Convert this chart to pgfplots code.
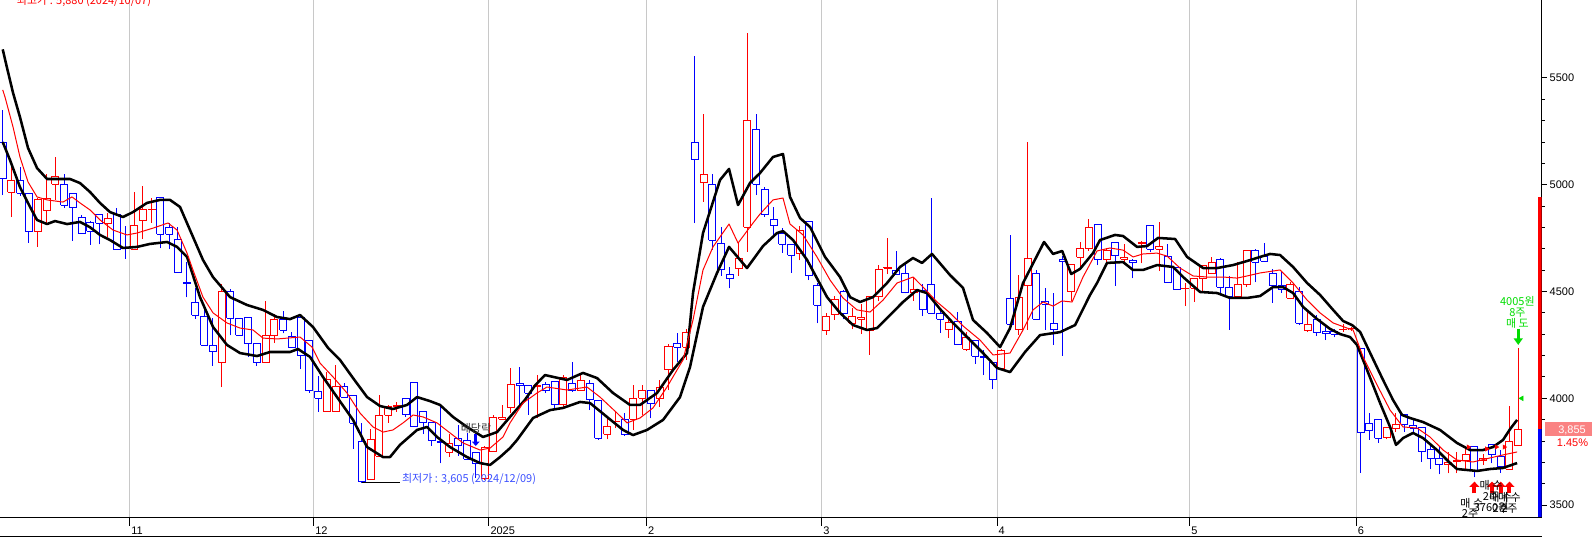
\documentclass[border=0pt]{standalone}
\usepackage{pgfplots}
\pgfplotsset{compat=1.18}
\usepackage{pgfplotstable}
\usetikzlibrary{arrows.meta}
\usepackage{fontspec}
\setmainfont{Liberation Sans}
\newfontfamily\kr{Noto Sans CJK KR}
\newcommand\fs{\fontsize{8.25pt}{9pt}\selectfont}

\definecolor{cred}{RGB}{255,0,0}
\definecolor{cblue}{RGB}{0,0,255}
\definecolor{gridgray}{RGB}{200,200,200}
\definecolor{sellgreen}{RGB}{0,220,0}
\definecolor{pricebox}{RGB}{250,130,130}
\definecolor{lowblue}{RGB}{60,80,255}

% daily candles: index, open, high, low, close
\pgfplotstableread{
k o h l c
0 5199 5350 4952 5030
1 4965 5100 4848 5022
2 5022 5085 4947 4960
3 4960 4960 4729 4780
4 4780 4937 4710 4933
5 4878 5050 4822 4937
6 5002 5128 4929 5040
7 5002 5050 4892 4904
8 4960 4960 4738 4894
9 4848 4858 4773 4773
10 4824 4830 4718 4783
11 4862 4862 4721 4820
12 4820 4866 4754 4840
13 4863 4890 4698 4698
14 4706 4807 4654 4702
15 4698 4965 4698 4807
16 4832 4994 4745 4885
17 4882 4937 4822 4886
18 4941 4941 4702 4768
19 4801 4822 4698 4768
20 4745 4801 4590 4590
21 4541 4637 4473 4539
22 4451 4515 4373 4389
23 4382 4429 4248 4248
24 4248 4375 4153 4220
25 4169 4535 4052 4501
26 4501 4510 4295 4375
27 4375 4375 4295 4295
28 4379 4379 4195 4258
29 4258 4258 4153 4169
30 4169 4456 4169 4293
31 4293 4395 4258 4370
32 4370 4410 4304 4319
33 4289 4311 4239 4239
34 4379 4393 4137 4200
35 4273 4273 4026 4036
36 4031 4105 3937 4000
37 3937 4122 3937 4086
38 3937 4156 3937 4054
39 4054 4073 4005 4005
40 4011 4011 3764 3883
41 3800 3883 3605 3612
42 3621 3855 3621 3808
43 3730 4016 3730 3921
44 3921 3969 3886 3961
45 3962 3984 3937 3965
46 4000 4002 3914 3925
47 4075 4075 3867 3867
48 3937 3937 3833 3886
49 3886 3886 3777 3802
50 3800 3973 3696 3794
51 3747 3833 3727 3789
52 3813 3875 3731 3778
53 3802 3839 3715 3715
54 3747 3747 3626 3696
55 3627 3775 3618 3771
56 3750 3922 3750 3911
57 3902 3969 3899 3911
58 3956 4141 3930 4067
59 4070 4148 3953 4062
60 4062 4062 3922 4024
61 4054 4109 3906 4062
62 4067 4078 4024 4039
63 4078 4078 3953 3969
64 3969 4109 3953 4098
65 4070 4171 4031 4036
66 4039 4117 4036 4083
67 4070 4086 3945 3995
68 3992 3992 3805 3813
69 3832 3906 3808 3867
70 3891 3937 3860 3893
71 3902 3930 3824 3832
72 3902 4062 3852 4000
73 4000 4062 3922 4039
74 4039 4039 3906 3977
75 4000 4086 3961 4052
76 4133 4254 4039 4245
77 4258 4304 4171 4239
78 4239 4323 4180 4309
79 5199 5603 4820 5119
80 5011 5330 4921 5050
81 5002 5050 4695 4741
82 4726 4804 4573 4601
83 4581 4616 4515 4562
84 4609 4726 4573 4656
85 4801 5712 4687 5303
86 5261 5330 4952 5002
87 4979 4991 4850 4862
88 4838 4896 4749 4810
89 4773 4796 4682 4721
90 4721 4721 4588 4670
91 4679 4805 4646 4785
92 4829 4829 4553 4576
93 4529 4539 4351 4436
94 4317 4398 4297 4384
95 4393 4479 4367 4464
96 4501 4507 4370 4398
97 4351 4422 4323 4384
98 4370 4440 4301 4379
99 4317 4478 4203 4478
100 4476 4624 4456 4604
101 4610 4752 4582 4613
102 4598 4690 4581 4581
103 4585 4635 4492 4495
104 4496 4562 4456 4510
105 4507 4534 4385 4417
106 4531 4937 4398 4398
107 4398 4423 4307 4370
108 4320 4379 4284 4354
109 4359 4403 4254 4254
110 4230 4312 4223 4284
111 4270 4270 4161 4198
112 4198 4226 4109 4192
113 4167 4167 4042 4089
114 4141 4230 4141 4222
115 4468 4765 4320 4347
116 4320 4577 4297 4473
117 4526 5199 4320 4656
118 4585 4601 4370 4370
119 4454 4515 4320 4440
120 4351 4492 4250 4323
121 4651 4668 4200 4643
122 4499 4628 4457 4628
123 4660 4733 4616 4702
124 4702 4838 4691 4801
125 4815 4815 4624 4651
126 4651 4702 4632 4694
127 4730 4730 4527 4668
128 4651 4723 4635 4658
129 4646 4651 4562 4637
130 4727 4735 4632 4730
131 4808 4808 4687 4699
132 4699 4824 4596 4712
133 4663 4721 4543 4543
134 4614 4614 4510 4510
135 4514 4541 4432 4516
136 4515 4562 4452 4562
137 4562 4621 4499 4621
138 4585 4663 4585 4635
139 4648 4656 4484 4520
140 4520 4574 4320 4476
141 4476 4640 4476 4534
142 4534 4690 4523 4690
143 4694 4699 4543 4637
144 4666 4726 4643 4643
145 4585 4604 4448 4527
146 4529 4596 4495 4510
147 4468 4546 4465 4535
148 4499 4523 4343 4351
149 4317 4406 4312 4347
150 4370 4390 4292 4309
151 4315 4335 4273 4304
152 4312 4326 4286 4300
153 4322 4347 4312 4323
154 4325 4335 4314 4326
155 4231 4231 3652 3839
156 3880 3933 3805 3848
157 3902 3902 3792 3813
158 3816 3864 3808 3864
159 3860 3930 3844 3878
160 3922 3922 3844 3878
161 3875 3902 3844 3860
162 3864 3864 3703 3749
163 3761 3782 3668 3717
164 3719 3777 3644 3688
165 3688 3750 3649 3699
166 3703 3750 3649 3711
167 3707 3777 3665 3738
168 3774 3774 3630 3661
169 3708 3739 3688 3719
170 3785 3786 3696 3735
171 3727 3758 3652 3682
172 3669 3964 3665 3797
173 3777 4234 3777 3855
}\candles

% upper band
\pgfplotstableread{
k v
0 5634
0.46 5553
1.18 5430
1.97 5317
2.89 5172
3.92 5078
5.06 5027
7.68 5027
8.82 5008
9.97 4966
11.1 4915
12.25 4872
13.73 4849
14.87 4872
16.47 4915
17.96 4929
19.1 4929
20.24 4896
21.38 4788
22.86 4648
24.0 4568
25.95 4474
27.89 4437
29.71 4414
31.3 4381
32.8 4371
33.94 4390
35.42 4334
37.14 4236
38.5 4180
39.99 4095
41.59 4006
43.07 3964
44.55 3950
46.15 3969
47.3 4006
48.78 3987
49.92 3969
51.4 3913
53.0 3866
54.83 3819
56.43 3842
57.91 3913
59.6 3992
60.8 4062
61.9 4109
64.42 4086
66.24 4119
67.84 4095
69.67 4025
71.61 3969
72.75 3969
74.69 4025
76.52 4133
78.12 4212
78.8 4493
79.94 4774
81.88 5022
82.91 5074
83.94 4905
85.3 5008
86.45 5055
87.93 5130
89.07 5144
89.87 4943
91.02 4844
92.16 4802
93.87 4662
95.58 4568
96.72 4474
97.86 4451
99.35 4474
100.95 4540
102.43 4615
103.91 4657
104.94 4634
106.08 4676
108.14 4577
109.62 4517
110.76 4367
112.36 4306
113.85 4240
114.99 4329
116.47 4540
118.87 4732
119.9 4676
120.94 4690
121.97 4582
122.98 4606
124.46 4680
125.26 4741
126.97 4765
127.89 4760
129.49 4709
130.63 4713
131.89 4751
133.83 4746
135.2 4662
137.03 4610
138.63 4610
140.45 4624
142.05 4643
143.53 4662
144.67 4676
145.81 4671
147.3 4615
148.9 4540
150.38 4484
151.87 4414
153.01 4362
154.03 4343
154.95 4311
156.1 4212
157.57 4086
158.71 3992
159.74 3922
160.65 3908
162.13 3889
164.07 3852
166.01 3791
167.5 3758
168.98 3758
170.12 3772
171.26 3805
172.07 3856
172.87 3899
}\upperband

% middle line
\pgfplotstableread{
k v
0 5444
0.26 5411
1.18 5270
1.97 5130
2.89 5013
3.92 4943
5.06 4929
6.88 4919
7.91 4943
8.82 4915
9.97 4882
11.11 4835
12.59 4788
14.19 4765
15.33 4774
17.16 4797
18.87 4821
19.9 4788
21.04 4680
21.72 4601
22.86 4474
24.01 4400
25.6 4353
27.09 4329
28.57 4320
29.71 4282
31.31 4278
33.94 4287
35.31 4240
36.22 4165
37.71 4100
39.3 4025
40.79 3931
42.27 3866
43.41 3842
44.55 3852
45.7 3885
46.84 3922
47.98 3913
49.58 3885
51.06 3838
52.55 3791
54.49 3758
55.63 3767
57.11 3819
57.91 3885
59.39 3978
60.99 4025
62.13 4053
64.42 4039
66.7 4053
68.18 4006
70.13 3931
71.27 3885
72.75 3908
74.23 3955
75.83 4053
77.66 4180
78.8 4367
79.94 4601
81.08 4709
82.91 4816
83.94 4727
85.65 4821
86.45 4863
87.93 4929
89.07 4938
89.87 4816
91.36 4765
92.95 4662
94.44 4554
95.92 4470
97.52 4414
99.01 4404
100.49 4460
102.09 4540
103.92 4568
105.06 4521
106.66 4451
108.14 4400
109.62 4339
111.56 4273
113.05 4203
114.99 4212
116.47 4320
117.61 4414
118.76 4451
119.9 4432
120.92 4456
122.07 4451
123.32 4568
124.92 4690
126.4 4704
127.89 4694
129.03 4662
130.17 4676
131.77 4680
132.91 4666
134.39 4610
135.88 4573
137.48 4568
139.3 4568
140.9 4563
142.05 4573
143.53 4587
145.81 4601
147.3 4540
148.9 4460
150.38 4400
151.87 4353
153.46 4329
154.15 4320
155.29 4194
156.89 4062
158.37 3945
159.85 3866
161.45 3861
162.93 3819
164.42 3758
166.01 3711
167.84 3702
169.78 3721
171.26 3735
172.87 3749
}\midline

% lower band
\pgfplotstableread{
k v
0 5200
0.83 5116
1.97 4989
3.12 4896
3.92 4835
5.06 4816
5.97 4830
7.34 4816
8.82 4826
9.97 4801
11.11 4765
12.25 4741
13.73 4704
15.33 4709
16.82 4723
18.76 4732
19.9 4709
21.04 4662
22.52 4474
24.01 4334
25.6 4250
27.09 4212
29.03 4198
30.51 4217
32.8 4217
33.71 4231
35.08 4194
36.56 4100
38.16 4006
39.99 3899
41.59 3772
43.41 3725
44.21 3725
45.35 3782
47.3 3852
48.44 3866
49.58 3819
51.06 3772
53.0 3725
54.49 3697
55.63 3688
56.77 3725
57.91 3767
58.71 3805
60.54 3908
62.48 3945
63.96 3955
65.9 3983
67.04 3978
68.98 3913
70.81 3852
71.95 3828
73.55 3852
75.38 3899
77.32 4006
78.46 4147
79.94 4428
81.54 4587
82.91 4709
84.96 4610
86.79 4713
88.39 4774
89.07 4783
90.22 4741
91.82 4648
94.1 4474
95.58 4400
97.07 4343
98.66 4320
99.8 4329
101.29 4390
102.77 4451
104.37 4507
105.51 4493
107.0 4418
108.48 4353
110.42 4273
111.91 4212
113.51 4142
114.99 4123
116.7 4217
118.41 4296
120.7 4310
122.41 4343
124.12 4484
124.92 4540
126.06 4634
127.89 4638
129.03 4601
130.17 4601
131.77 4624
133.6 4615
134.74 4568
136.68 4498
138.63 4493
140.1 4470
142.05 4470
143.53 4479
145.0 4521
146.15 4521
147.3 4493
148.44 4428
150.04 4371
151.52 4325
152.66 4301
153.8 4287
154.6 4250
155.74 4133
157.23 3978
158.37 3866
159.05 3782
159.85 3814
160.99 3838
162.13 3814
163.73 3758
165.22 3697
166.01 3669
168.3 3660
169.78 3669
171.26 3674
172.87 3697
}\lowerband

\begin{document}
\begin{tikzpicture}
\useasboundingbox (0pt,-15pt) rectangle (1194pt,387.75pt);
\begin{axis}[
  at={(0pt,0pt)}, anchor=south west,
  width=1156.3pt, height=387.75pt, scale only axis,
  xmin=-0.31, xmax=175.68, ymin=3444.4, ymax=5865,
  axis x line=bottom, axis y line=right,
  axis line style={-, black, line width=0.75pt},
  tick align=outside,
  major tick length=3.75pt, minor tick length=2.25pt,
  tick style={black, line width=0.75pt},
  xtick={14.5,35.5,55.5,73.5,93.5,113.5,135.5,154.5},
  xticklabels={11,12,2025,2,3,4,5,6},
  ytick={3500,4000,4500,5000,5500},
  minor y tick num=4,
  xmajorgrids, major grid style={draw=gridgray, line width=0.75pt},
  ticklabel style={font=\fs, inner sep=0pt},
  xticklabel style={anchor=base west, xshift=1pt, yshift=-9pt},
  yticklabel style={anchor=west, xshift=2pt},
  /pgf/number format/assume math mode=true,
  /pgf/number format/1000 sep={},
]
% candles: wick, then hollow body
\pgfplotsinvokeforeach{0,...,173}{%
  \pgfplotstablegetelem{#1}{o}\of\candles \let\cO\pgfplotsretval
  \pgfplotstablegetelem{#1}{h}\of\candles \let\cH\pgfplotsretval
  \pgfplotstablegetelem{#1}{l}\of\candles \let\cL\pgfplotsretval
  \pgfplotstablegetelem{#1}{c}\of\candles \let\cC\pgfplotsretval
  \ifdim\cC pt<\cO pt
    \def\candlecol{cblue}\let\cLo\cC\let\cHi\cO
  \else
    \def\candlecol{cred}\let\cLo\cO\let\cHi\cC
  \fi
  \pgfmathsetmacro\xa{#1-0.4}%
  \pgfmathsetmacro\xb{#1+0.4}%
  \edef\next{%
    \noexpand\addplot[\candlecol, line width=0.75pt, forget plot]
      coordinates {(#1,\cL) (#1,\cH)};
    \noexpand\addplot[\candlecol, fill=white, line width=0.75pt, line join=miter, forget plot]
      coordinates {(\xa,\cLo) (\xb,\cLo) (\xb,\cHi) (\xa,\cHi) (\xa,\cLo)};
  }%
  \next
}
% bands
\addplot[black, line width=1.9pt, line join=round] table[x=k, y=v] {\upperband};
\addplot[black, line width=1.9pt, line join=round] table[x=k, y=v] {\lowerband};
\addplot[cred, line width=0.75pt, line join=round] table[x=k, y=v] {\midline};

% price position bar
\fill[cred] (axis cs:175.23,3855) rectangle (axis cs:175.68,4944);
\fill[cblue] (axis cs:175.23,3444.4) rectangle (axis cs:175.68,3855);

% high / low labels
\node[anchor=base west, text=cred, font=\kr\fs, inner sep=0pt] at (axis cs:1.6,5845) {최고가 : 5,880 (2024/10/07)};
\draw[black, line width=0.75pt] (axis cs:41,3605) -- (axis cs:45.3,3605);
\node[anchor=base west, text=lowblue, font=\kr\fs, inner sep=0pt] at (axis cs:45.55,3608) {최저가 : 3,605 (2024/12/09)};

% ex-dividend
\node[anchor=base, text=black!80, font=\kr\fs, inner sep=0pt] at (axis cs:54.03,3842) {배당락};
\draw[cblue, line width=2pt, -{Triangle[width=5.5pt,length=3.2pt]}] (axis cs:54,3833) -- (axis cs:54,3777);

% small markers
\addplot[only marks, mark=triangle*, mark size=2pt, color=sellgreen, mark options={rotate=90}] coordinates {(173.4,4000)};
\addplot[only marks, mark=triangle*, mark size=1.8pt, color=cred, mark options={rotate=-90}] coordinates {(167.3,3772) (169.4,3763) (170.5,3772) (171.4,3772)};

% sell signal
\draw[sellgreen, line width=2.25pt, -{Triangle[width=6.75pt,length=5pt]}] (axis cs:173,4325) -- (axis cs:173,4250);
\node[anchor=base, text=sellgreen, font=\kr\fs, inner sep=0pt] at (axis cs:172.9,4437) {4005원};
\node[anchor=base, text=sellgreen, font=\kr\fs, inner sep=0pt] at (axis cs:172.9,4385) {8주};
\node[anchor=base, text=sellgreen, font=\kr\fs, inner sep=0pt] at (axis cs:172.9,4334) {매 도};

% buy signals
\draw[cred, line width=3pt, -{Triangle[width=7.5pt,length=4pt]}] (axis cs:168,3555) -- (axis cs:168,3610);
\draw[cred, line width=3pt, -{Triangle[width=7.5pt,length=4pt]}] (axis cs:170,3555) -- (axis cs:170,3610);
\draw[cred, line width=3pt, -{Triangle[width=7.5pt,length=4pt]}] (axis cs:171,3555) -- (axis cs:171,3610);
\draw[cred, line width=3pt, -{Triangle[width=7.5pt,length=4pt]}] (axis cs:172,3555) -- (axis cs:172,3610);
\node[anchor=base, font=\kr\fs, inner sep=0pt] at (axis cs:167.7,3491) {매 수};
\node[anchor=base, font=\kr\fs, inner sep=0pt] at (axis cs:167.5,3440) {2주};
\node[anchor=base, font=\kr\fs, inner sep=0pt] at (axis cs:169.9,3571) {매 수};
\node[anchor=base, font=\kr\fs, inner sep=0pt] at (axis cs:169.9,3522) {2주};
\node[anchor=base, font=\kr\fs, inner sep=0pt] at (axis cs:169.9,3472) {3760원};
\node[anchor=base, font=\kr\fs, inner sep=0pt] at (axis cs:171,3515) {매 수};
\node[anchor=base, font=\kr\fs, inner sep=0pt] at (axis cs:171,3465) {2주};
\node[anchor=base, font=\kr\fs, inner sep=0pt] at (axis cs:172,3515) {매 수};
\node[anchor=base, font=\kr\fs, inner sep=0pt] at (axis cs:172,3465) {2주};
\end{axis}

\begin{scope}[x=0.75pt,y=0.75pt]
% longer month ticks and bottom border
\foreach \tx in {129.7,313.7,488.9,646.6,821.8,997,1189.7,1356.1}{
  \draw[black, line width=0.75pt] (\tx,0) -- (\tx,-9);
}
\draw[black, line width=0.75pt] (0,-19.5) -- (1542,-19.5);
% current price box
\fill[pricebox] (1545,81) rectangle (1592,94.7);
\node[anchor=base, text=white, font=\fs, inner sep=0pt] at (1572,83.7) {3,855};
\node[anchor=base, text=cred, font=\fs, inner sep=0pt] at (1572.5,70.5) {1.45\%};
\end{scope}
\end{tikzpicture}
\end{document}
